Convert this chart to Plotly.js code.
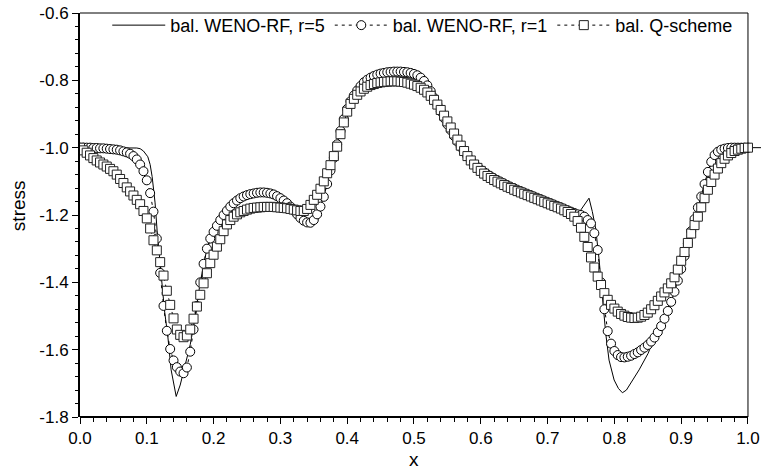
<!DOCTYPE html>
<html>
<head>
<meta charset="utf-8">
<script src="https://cdn.plot.ly/plotly-3.0.1.min.js"></script>
<style>html,body{margin:0;padding:0;background:#fff;}#chart{width:761px;height:474px;}</style>
</head>
<body>
<div id="chart"></div>
<script>
// x positions of the marker series (0.005 spacing)
const xGrid = [0,0.005,0.01,0.015,0.02,0.025,0.03,0.035,0.04,0.045,0.05,0.055,0.06,0.065,0.07,0.075,0.08,0.085,0.09,0.095,
0.1,0.105,0.11,0.115,0.12,0.125,0.13,0.135,0.14,0.145,0.15,0.155,0.16,0.165,0.17,0.175,0.18,0.185,0.19,0.195,
0.2,0.205,0.21,0.215,0.22,0.225,0.23,0.235,0.24,0.245,0.25,0.255,0.26,0.265,0.27,0.275,0.28,0.285,0.29,0.295,
0.3,0.305,0.31,0.315,0.32,0.325,0.33,0.335,0.34,0.345,0.35,0.355,0.36,0.365,0.37,0.375,0.38,0.385,0.39,0.395,
0.4,0.405,0.41,0.415,0.42,0.425,0.43,0.435,0.44,0.445,0.45,0.455,0.46,0.465,0.47,0.475,0.48,0.485,0.49,0.495,
0.5,0.505,0.51,0.515,0.52,0.525,0.53,0.535,0.54,0.545,0.55,0.555,0.56,0.565,0.57,0.575,0.58,0.585,0.59,0.595,
0.6,0.605,0.61,0.615,0.62,0.625,0.63,0.635,0.64,0.645,0.65,0.655,0.66,0.665,0.67,0.675,0.68,0.685,0.69,0.695,
0.7,0.705,0.71,0.715,0.72,0.725,0.73,0.735,0.74,0.745,0.75,0.755,0.76,0.765,0.77,0.775,0.78,0.785,0.79,0.795,
0.8,0.805,0.81,0.815,0.82,0.825,0.83,0.835,0.84,0.845,0.85,0.855,0.86,0.865,0.87,0.875,0.88,0.885,0.89,0.895,
0.9,0.905,0.91,0.915,0.92,0.925,0.93,0.935,0.94,0.945,0.95,0.955,0.96,0.965,0.97,0.975,0.98,0.985,0.99,0.995,1.0];

// bal. WENO-RF, r=1 (circles)
const wenoR1 = [-1.000,-1.000,-1.000,-1.000,-1.001,-1.001,-1.002,-1.002,-1.003,-1.004,-1.005,-1.006,-1.008,-1.011,-1.014,-1.018,-1.025,-1.035,-1.050,-1.070,
-1.097,-1.135,-1.190,-1.270,-1.372,-1.470,-1.544,-1.598,-1.632,-1.652,-1.665,-1.670,-1.653,-1.606,-1.540,-1.470,-1.400,-1.345,-1.300,-1.270,
-1.250,-1.232,-1.215,-1.200,-1.187,-1.175,-1.165,-1.157,-1.150,-1.145,-1.141,-1.138,-1.136,-1.134,-1.133,-1.133,-1.134,-1.136,-1.139,-1.144,
-1.150,-1.157,-1.165,-1.175,-1.186,-1.198,-1.209,-1.217,-1.222,-1.223,-1.215,-1.198,-1.175,-1.146,-1.108,-1.068,-1.030,-0.990,-0.950,-0.915,
-0.885,-0.862,-0.845,-0.830,-0.817,-0.806,-0.798,-0.792,-0.787,-0.783,-0.780,-0.778,-0.776,-0.775,-0.774,-0.774,-0.774,-0.775,-0.776,-0.778,
-0.781,-0.785,-0.792,-0.802,-0.815,-0.832,-0.852,-0.872,-0.892,-0.912,-0.931,-0.948,-0.965,-0.982,-0.998,-1.012,-1.026,-1.038,-1.049,-1.058,
-1.066,-1.073,-1.080,-1.086,-1.092,-1.097,-1.102,-1.107,-1.112,-1.117,-1.121,-1.126,-1.130,-1.134,-1.138,-1.142,-1.146,-1.150,-1.154,-1.158,
-1.162,-1.166,-1.170,-1.174,-1.178,-1.182,-1.186,-1.190,-1.194,-1.198,-1.200,-1.205,-1.215,-1.225,-1.254,-1.304,-1.400,-1.480,-1.545,-1.582,
-1.604,-1.616,-1.622,-1.623,-1.621,-1.618,-1.613,-1.608,-1.601,-1.594,-1.586,-1.576,-1.564,-1.548,-1.530,-1.508,-1.485,-1.458,-1.428,-1.395,
-1.360,-1.322,-1.285,-1.248,-1.212,-1.178,-1.145,-1.108,-1.072,-1.042,-1.022,-1.012,-1.006,-1.003,-1.001,-1.000,-1.000,-1.000,-1.000,-1.000,-1.000];

// bal. Q-scheme (squares)
const qScheme = [-1.000,-1.008,-1.015,-1.023,-1.031,-1.038,-1.044,-1.050,-1.056,-1.063,-1.070,-1.080,-1.093,-1.105,-1.118,-1.130,-1.142,-1.155,-1.168,-1.188,
-1.210,-1.240,-1.275,-1.305,-1.340,-1.380,-1.425,-1.467,-1.507,-1.540,-1.556,-1.563,-1.558,-1.540,-1.508,-1.472,-1.437,-1.403,-1.373,-1.343,
-1.318,-1.294,-1.272,-1.248,-1.228,-1.215,-1.205,-1.198,-1.192,-1.188,-1.184,-1.181,-1.179,-1.178,-1.177,-1.176,-1.176,-1.176,-1.176,-1.177,
-1.178,-1.179,-1.180,-1.182,-1.184,-1.186,-1.188,-1.188,-1.182,-1.170,-1.155,-1.140,-1.122,-1.100,-1.076,-1.052,-1.025,-0.997,-0.960,-0.925,
-0.893,-0.870,-0.855,-0.843,-0.833,-0.825,-0.819,-0.814,-0.811,-0.808,-0.806,-0.805,-0.804,-0.803,-0.803,-0.803,-0.804,-0.805,-0.807,-0.810,
-0.813,-0.817,-0.822,-0.828,-0.836,-0.846,-0.858,-0.872,-0.888,-0.905,-0.922,-0.940,-0.958,-0.976,-0.994,-1.010,-1.025,-1.038,-1.050,-1.060,
-1.069,-1.077,-1.084,-1.090,-1.096,-1.101,-1.106,-1.111,-1.116,-1.120,-1.125,-1.129,-1.133,-1.137,-1.141,-1.145,-1.149,-1.153,-1.157,-1.161,
-1.165,-1.169,-1.173,-1.177,-1.181,-1.186,-1.191,-1.197,-1.205,-1.218,-1.238,-1.265,-1.295,-1.326,-1.356,-1.383,-1.408,-1.432,-1.452,-1.467,
-1.478,-1.487,-1.494,-1.499,-1.503,-1.505,-1.506,-1.505,-1.502,-1.497,-1.490,-1.480,-1.468,-1.455,-1.442,-1.430,-1.418,-1.403,-1.385,-1.362,
-1.336,-1.310,-1.283,-1.255,-1.230,-1.205,-1.177,-1.150,-1.125,-1.102,-1.080,-1.062,-1.046,-1.033,-1.023,-1.016,-1.010,-1.006,-1.003,-1.001,-1.000];

// bal. WENO-RF, r=5 (solid line)
const wenoR5X = [0,0.02,0.04,0.06,0.07,0.08,0.085,0.09,0.095,0.1015,0.105,0.108,0.1124,0.1154,0.119,0.123,0.1264,0.1315,0.1364,0.144,
0.15,0.155,0.16,0.165,0.17,0.175,0.18,0.19,0.2,0.21,0.22,0.23,0.24,0.25,0.26,0.27,0.28,0.29,0.3,0.31,0.32,0.33,0.34,0.345,0.35,0.36,0.37,0.38,0.39,
0.4,0.41,0.42,0.43,0.44,0.45,0.46,0.47,0.48,0.49,0.5,0.51,0.52,0.53,0.54,0.55,0.56,0.57,0.58,0.59,0.6,0.62,0.64,0.66,0.68,0.7,0.72,0.74,
0.748,0.755,0.762,0.767,0.772,0.777,0.7836,0.787,0.792,0.7996,0.806,0.812,0.818,0.8246,0.837,0.8505,0.86,0.87,0.88,0.89,0.9,0.91,0.92,0.93,0.94,0.95,0.96,0.97,0.98,1.0,1.03];
const wenoR5Y = [-1.000,-1.000,-1.000,-1.000,-1.000,-1.000,-1.001,-1.003,-1.010,-1.027,-1.050,-1.086,-1.164,-1.245,-1.324,-1.402,-1.482,-1.561,-1.660,-1.739,
-1.705,-1.665,-1.625,-1.585,-1.530,-1.465,-1.400,-1.300,-1.250,-1.215,-1.187,-1.165,-1.150,-1.141,-1.136,-1.133,-1.134,-1.139,-1.150,-1.165,-1.186,-1.209,-1.222,-1.223,-1.215,-1.175,-1.108,-1.030,-0.950,
-0.885,-0.845,-0.817,-0.798,-0.787,-0.780,-0.776,-0.774,-0.774,-0.776,-0.781,-0.792,-0.815,-0.852,-0.892,-0.931,-0.965,-0.998,-1.026,-1.049,-1.066,-1.092,-1.112,-1.130,-1.146,-1.162,-1.178,-1.192,
-1.190,-1.170,-1.150,-1.190,-1.240,-1.330,-1.472,-1.551,-1.631,-1.690,-1.715,-1.728,-1.720,-1.700,-1.660,-1.611,-1.564,-1.530,-1.485,-1.428,-1.360,-1.285,-1.212,-1.145,-1.072,-1.022,-1.006,-1.001,-1.000,-1.000,-1.000];

const names = ['bal. WENO-RF, r=5', 'bal. WENO-RF, r=1', 'bal. Q-scheme'];
const xTickVals = [0,0.1,0.2,0.3,0.4,0.5,0.6,0.7,0.8,0.9,1.0];
const xTickText = ['0.0','0.1','0.2','0.3','0.4','0.5','0.6','0.7','0.8','0.9','1.0'];
const yTickVals = [-1.8,-1.6,-1.4,-1.2,-1.0,-0.8,-0.6];
const yTickText = ['-1.8','-1.6','-1.4','-1.2','-1.0','-0.8','-0.6'];

const FONT = 'Liberation Sans, Arial, Helvetica, sans-serif';

const traces = [
  {x: wenoR5X, y: wenoR5Y, name: names[0], type: 'scatter', mode: 'lines',
   line: {color: '#000', width: 1}},
  {x: xGrid, y: wenoR1, name: names[1], type: 'scatter', mode: 'lines+markers',
   line: {color: '#000', width: 1, dash: '3px,4px'},
   marker: {symbol: 'circle', size: 9, color: '#fff', line: {color: '#000', width: 1}}},
  {x: xGrid, y: qScheme, name: names[2], type: 'scatter', mode: 'lines+markers',
   line: {color: '#000', width: 1, dash: '3px,4px'},
   marker: {symbol: 'square', size: 9, color: '#fff', line: {color: '#222', width: 1}}}
];

const layout = {
  width: 761, height: 474,
  margin: {l: 80, r: 0, t: 13, b: 57, pad: 0},
  paper_bgcolor: '#fff', plot_bgcolor: '#fff',
  font: {family: FONT, size: 17, color: '#000'},
  showlegend: true,
  legend: {orientation: 'h', x: 0.04, y: 1.015, xanchor: 'left', yanchor: 'top',
           bgcolor: 'rgba(0,0,0,0)', font: {family: FONT, size: 18, color: '#000'},
           itemwidth: 53, traceorder: 'normal', tracegroupgap: 0},
  xaxis: {range: [0, 1.0195], tickvals: xTickVals, ticktext: xTickText,
          ticks: 'outside', ticklen: 6, tickwidth: 1, tickcolor: '#000',
          showline: false, showgrid: false, zeroline: false,
          tickfont: {family: FONT, size: 17, color: '#000'},
          minor: {dtick: 0.02, tick0: 0, ticks: 'outside', ticklen: 3.5, tickwidth: 1, tickcolor: '#000', showgrid: false},
          title: {text: ''}},
  yaxis: {range: [-1.8, -0.6], tickvals: yTickVals, ticktext: yTickText,
          ticks: 'outside', ticklen: 6, tickwidth: 1, tickcolor: '#000',
          showline: true, linewidth: 2, linecolor: '#000', mirror: false,
          showgrid: false, zeroline: false,
          tickfont: {family: FONT, size: 17, color: '#000'},
          minor: {dtick: 0.04, tick0: -1.8, ticks: 'outside', ticklen: 3.5, tickwidth: 1, tickcolor: '#000', showgrid: false},
          title: {text: ''}},
  annotations: [
    {text: 'stress', xref: 'paper', yref: 'paper', x: -0.091, y: 0.522, xanchor: 'center', yanchor: 'middle',
     textangle: -90, showarrow: false, font: {family: FONT, size: 19, color: '#000'}},
    {text: 'x', xref: 'x', yref: 'paper', x: 0.5, y: -0.105, xanchor: 'center', yanchor: 'middle',
     showarrow: false, font: {family: FONT, size: 19, color: '#000'}}
  ],
  shapes: [
    {type: 'line', xref: 'x', yref: 'paper', x0: 0, x1: 1, y0: 0, y1: 0, line: {color: '#000', width: 2}},
    {type: 'line', xref: 'x', yref: 'paper', x0: 0, x1: 1, y0: 1, y1: 1, line: {color: '#000', width: 1}},
    {type: 'line', xref: 'x', yref: 'paper', x0: 1, x1: 1, y0: 0, y1: 1, line: {color: '#000', width: 1}}
  ]
};

Plotly.newPlot('chart', traces, layout, {displayModeBar: false, staticPlot: true});
</script>
</body>
</html>
